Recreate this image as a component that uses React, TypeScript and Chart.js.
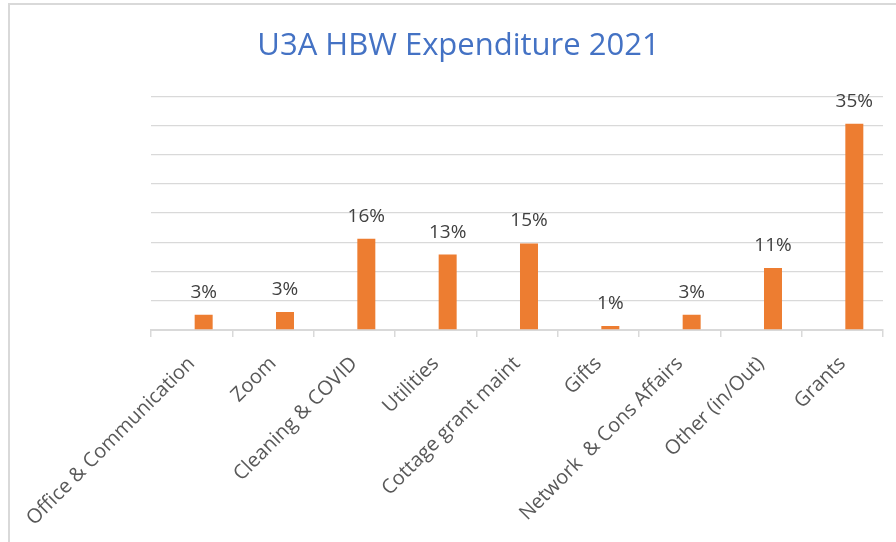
import React, { useEffect, useRef } from 'react';
import { Chart, registerables } from 'chart.js';

Chart.register(...registerables);

const categories = [
  'Office & Communication',
  'Zoom',
  'Cleaning & COVID',
  'Utilities',
  'Cottage grant maint',
  'Gifts',
  'Network  & Cons Affairs',
  'Other (in/Out)',
  'Grants',
];

// share of expenditure (fractions)
const shares = [0.026, 0.031, 0.156, 0.129, 0.148, 0.007, 0.026, 0.106, 0.353];
// empty companion series (keeps Excel's off-centre bar placement)
const spacer = [null, null, null, null, null, null, null, null, null];
const dataLabels = ['3%', '3%', '16%', '13%', '15%', '1%', '3%', '11%', '35%'];

const yMin = 0;
const yMax = 0.4;
const yStep = 0.05;

const FONT = "'Open Sans', 'Noto Sans', sans-serif";

const dataLabelPlugin = {
  id: 'barValueLabels',
  afterDatasetsDraw(chart: any) {
    const ctx = chart.ctx;
    const meta = chart.getDatasetMeta(1);
    ctx.save();
    ctx.font = `19px ${FONT}`;
    ctx.fillStyle = '#404040';
    ctx.textAlign = 'center';
    ctx.textBaseline = 'alphabetic';
    meta.data.forEach((bar: any, i: number) => {
      ctx.fillText(dataLabels[i], bar.x, bar.y - 17);
    });
    ctx.restore();
  },
};

export default function App() {
  const canvasRef = useRef<HTMLCanvasElement | null>(null);

  useEffect(() => {
    const canvas = canvasRef.current;
    if (!canvas) return;
    const chart = new Chart(canvas, {
      type: 'bar',
      data: {
        labels: categories,
        datasets: [
          {
            label: 'spacer',
            data: spacer as any,
            backgroundColor: 'rgba(0,0,0,0)',
            categoryPercentage: 0.59,
            barPercentage: 0.75,
          },
          {
            label: 'Expenditure',
            data: shares,
            backgroundColor: '#ED7D31',
            borderWidth: 0,
            categoryPercentage: 0.59,
            barPercentage: 0.75,
          },
        ],
      },
      options: {
        responsive: false,
        animation: false,
        devicePixelRatio: 1,
        layout: { padding: { left: 34, right: 13, top: 0, bottom: 0 } },
        plugins: {
          legend: { display: false },
          tooltip: { enabled: false },
          title: {
            display: true,
            text: 'U3A HBW Expenditure 2021',
            color: '#4472C4',
            font: { family: FONT, size: 31, weight: 'normal', lineHeight: 1.2 },
            padding: { top: 28, bottom: 31 },
          },
        },
        scales: {
          x: {
            offset: true,
            grid: {
              offset: true,
              drawOnChartArea: false,
              drawTicks: true,
              tickLength: 7,
              color: '#D9D9D9',
              lineWidth: 1.5,
            },
            border: { display: true, color: '#D9D9D9', width: 2 },
            ticks: {
              autoSkip: false,
              maxRotation: 45,
              minRotation: 45,
              color: '#595959',
              padding: 15,
              font: { family: FONT, size: 20 },
            },
            afterFit(scale: any) {
              scale.height = 212;
            },
          },
          y: {
            min: yMin,
            max: yMax,
            ticks: { display: false, stepSize: yStep },
            grid: { color: '#D9D9D9', lineWidth: 1.3, drawTicks: false },
            border: { display: false },
            afterFit(scale: any) {
              scale.width = 117;
            },
          },
        },
      },
      plugins: [dataLabelPlugin],
    });
    return () => chart.destroy();
  }, []);

  return (
    <div
      style={{
        position: 'fixed',
        left: 0,
        top: 0,
        width: 896,
        height: 542,
        overflow: 'hidden',
        background: '#FFFFFF',
      }}
    >
      <canvas ref={canvasRef} width={896} height={542} style={{ display: 'block', width: 896, height: 542 }} />
      <div
        style={{
          position: 'absolute',
          left: 8,
          top: 3,
          width: 2000,
          height: 2000,
          borderLeft: '2px solid #D9D9D9',
          borderTop: '2px solid #D9D9D9',
          pointerEvents: 'none',
        }}
      />
    </div>
  );
}
